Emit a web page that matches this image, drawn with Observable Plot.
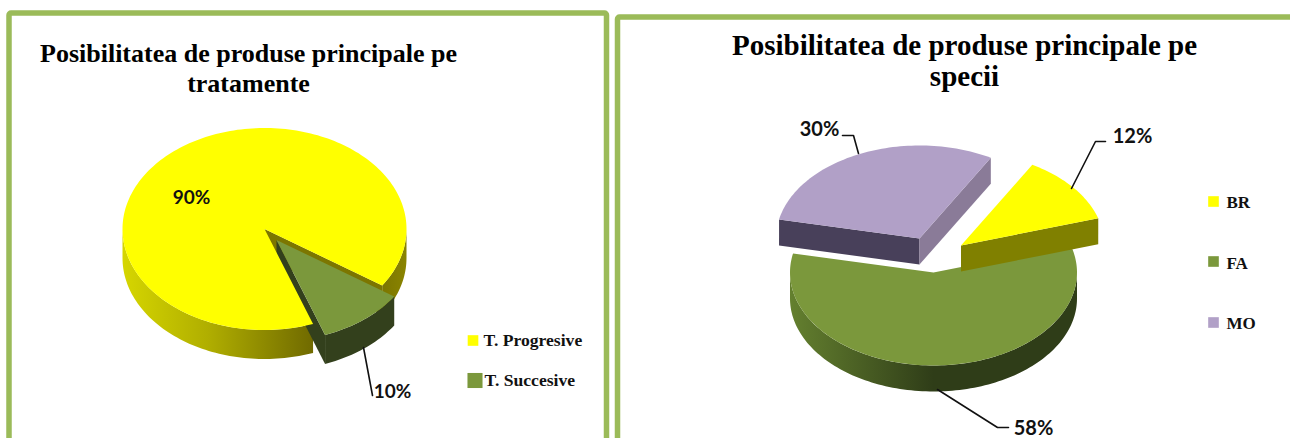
<!DOCTYPE html>
<html>
<head>
<meta charset="utf-8">
<style>html,body{margin:0;padding:0;background:#fff;overflow:hidden}</style>
<script src="https://cdn.jsdelivr.net/npm/d3@7"></script>
<script src="https://cdn.jsdelivr.net/npm/@observablehq/plot@0.6"></script>
</head>
<body>
<script>
// ---- data ----
const treatCategories = ["T. Progresive", "T. Succesive"];
const treatValues = [90, 10];
const treatTitle = ["Posibilitatea de produse principale pe", "tratamente"];
const speciesCategories = ["BR", "FA", "MO"];
const speciesValues = [12, 58, 30];
const speciesTitle = ["Posibilitatea de produse principale pe", "specii"];

// ---- palette ----
const YEL = "#ffff00", GRN = "#7b983c", MO = "#b1a0c7", FRAME = "#9bbb59";

// ---- layout ----
const W = 1290, H = 438;
const rad = d => d * Math.PI / 180;
const pieL = {cx: 264, cy: 228.5, rx: 142, ry: 101, depth: 29, start: 160, offsets: [[0, 0], [12, 11]]};
const pieR = {cx: 933, cy: 272, rx: 143.5, ry: 93, depth: 26, start: 29.8, offsets: [[27.5, -27], [0, 0], [-14, -34]]};

function slices(values, pie) {
  const gen = d3.pie().sort(null).startAngle(rad(pie.start)).endAngle(rad(pie.start + 360));
  return gen(values).map((s, i) => ({a0: s.startAngle, a1: s.endAngle, off: pie.offsets[i], pie}));
}
function pt(s, t, r = 1, dz = 0) {
  const {cx, cy, rx, ry} = s.pie;
  return {x: cx + s.off[0] + r * rx * Math.sin(t), y: cy + s.off[1] - r * ry * Math.cos(t) + dz};
}
function arc(s, a0, a1, dz = 0) {
  const n = Math.max(2, Math.ceil(Math.abs(a1 - a0) / rad(1.5)));
  return d3.range(n + 1).map(i => pt(s, a0 + (a1 - a0) * i / n, 1, dz));
}
const poly = (pts, fill) => Plot.line(pts, {x: "x", y: "y", fill, stroke: "none"});
const face = (s, fill) => poly([pt(s, 0, 0), ...arc(s, s.a0, s.a1)], fill);
// outer wall between two angles
function wall(s, a0, a1, fill) {
  const d = s.pie.depth;
  return poly([...arc(s, a0, a1), ...arc(s, a1, a0, d)], fill);
}
// flat cut wall from the slice apex to the rim at angle a
function cut(s, a, fill) {
  const d = s.pie.depth;
  return poly([pt(s, 0, 0), pt(s, a), pt(s, a, 1, d), pt(s, 0, 0, d)], fill);
}

const [sP, sS] = slices(treatValues, pieL);
const [sBR, sFA, sMO] = slices(speciesValues, pieR);

const defs = () => {
  const ns = "http://www.w3.org/2000/svg";
  const d = document.createElementNS(ns, "defs");
  const grads = {
    wallYel: [[0, "#d6d600"], [0.45, "#b0ae00"], [1, "#706a00"]],
    wallYelR: [[0, "#7c7600"], [1, "#8a8400"]],
    wallGrn: [[0, "#64802f"], [0.5, "#2f3d18"], [1, "#2f3d18"]]
  };
  for (const [id, stops] of Object.entries(grads)) {
    const g = document.createElementNS(ns, "linearGradient");
    g.setAttribute("id", id);
    for (const [o, c] of stops) {
      const st = document.createElementNS(ns, "stop");
      st.setAttribute("offset", o);
      st.setAttribute("stop-color", c);
      g.appendChild(st);
    }
    d.appendChild(g);
  }
  return d;
};

const serif = "'Liberation Serif', serif";
const calibri = "Lato, 'Open Sans', sans-serif";
const titleOf = (lines, x, ys, size) => lines.map((t, i) => ({t, x, y: ys[i], size}));
const titles = [...titleOf(treatTitle, 248, [53, 83], 26), ...titleOf(speciesTitle, 964, [45, 76], 29)];
const legendRows = [
  {t: treatCategories[0], x: 483, y: 340, c: YEL, sx: 472.5, sy: 340, r: 6, size: 17.6},
  {t: treatCategories[1], x: 484, y: 380, c: GRN, sx: 474.5, sy: 380, r: 8.5, size: 17.6},
  {t: speciesCategories[0], x: 1226, y: 202, c: YEL, sx: 1213, sy: 201, r: 6, size: 17},
  {t: speciesCategories[1], x: 1226, y: 263, c: GRN, sx: 1213, sy: 261, r: 6, size: 17},
  {t: speciesCategories[2], x: 1226, y: 323, c: MO, sx: 1213, sy: 322, r: 6, size: 17}
];
const pctLabels = [
  {t: treatValues[0] + "%", x: 191, y: 197, size: 19},
  {t: treatValues[1] + "%", x: 392, y: 391, size: 19},
  {t: speciesValues[2] + "%", x: 819, y: 129, size: 20},
  {t: speciesValues[0] + "%", x: 1132, y: 136, size: 20},
  {t: speciesValues[1] + "%", x: 1033, y: 428, size: 20}
];
const leaders = [
  [{x: 363, y: 347}, {x: 372, y: 395}],
  [{x: 842, y: 135}, {x: 853, y: 135}, {x: 858, y: 153}],
  [{x: 1071, y: 188}, {x: 1095, y: 141}, {x: 1105, y: 141}],
  [{x: 937, y: 389}, {x: 997, y: 427}, {x: 1008, y: 427}]
];
const frames = [
  {x1: 9, x2: 606.5, y1: 13, y2: 470},
  {x1: 617.5, x2: 1400, y1: 17, y2: 470}
];

const chart = Plot.plot({
  width: W, height: H, margin: 0,
  x: {domain: [0, W], range: [0, W], axis: null},
  y: {domain: [0, H], range: [0, H], axis: null},
  style: {background: "#fff"},
  marks: [
    defs,
    Plot.rect(frames, {x1: "x1", x2: "x2", y1: "y1", y2: "y2", fill: "none", stroke: FRAME, strokeWidth: 5.5, rx: 2}),
    // left pie
    wall(sP, rad(450), sP.a1, "url(#wallYelR)"),
    wall(sP, sP.a0, rad(270), "url(#wallYel)"),
    cut(sP, sP.a1, "#7c7600"),
    cut(sS, sS.a1, "#33401c"),
    face(sP, YEL),
    wall(sS, sS.a0, sS.a1, "#33401c"),
    face(sS, GRN),
    // right pie
    wall(sFA, rad(90), rad(270), "url(#wallGrn)"),
    face(sFA, GRN),
    cut(sMO, sMO.a0, "#48405a"),
    cut(sMO, sMO.a1, "#8a7b98"),
    face(sMO, MO),
    cut(sBR, sBR.a1, "#808000"),
    face(sBR, YEL),
    // leaders and labels
    ...leaders.map(l => Plot.line(l, {x: "x", y: "y", stroke: "#111", strokeWidth: 1.6})),
    ...pctLabels.map(d => Plot.text([d], {x: "x", y: "y", text: "t", fontFamily: calibri, fontWeight: 700, fontSize: d.size, fill: "#111"})),
    ...titles.map(d => Plot.text([d], {x: "x", y: "y", text: "t", fontFamily: serif, fontWeight: 700, fontSize: d.size, fill: "#000"})),
    ...legendRows.map(d => Plot.dot([d], {x: "sx", y: "sy", symbol: "square", r: d.r, fill: d.c, stroke: "none"})),
    ...legendRows.map(d => Plot.text([d], {x: "x", y: "y", text: "t", textAnchor: "start", fontFamily: serif, fontWeight: 700, fontSize: d.size, fill: "#111"}))
  ]
});
document.body.appendChild(chart);
</script>
</body>
</html>
